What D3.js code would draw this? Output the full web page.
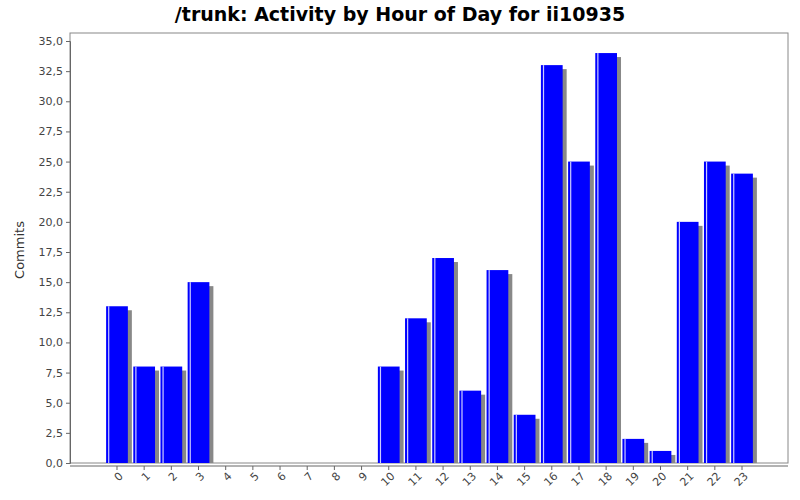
<!DOCTYPE html>
<html>
<head>
<meta charset="UTF-8">
<script src="https://d3js.org/d3.v7.min.js"></script>
<style>
  body { margin: 0; background: #fff; font-family: "DejaVu Sans", sans-serif; }
</style>
</head>
<body>
<svg id="chart" width="800" height="500"></svg>
<script>
  const hours = d3.range(24).map(String);
  const commits = [13, 8, 8, 15, 0, 0, 0, 0, 0, 0, 8, 12, 17, 6, 16, 4, 33, 25, 34, 2, 1, 20, 25, 24];
  const yTicks = d3.range(0, 35.1, 2.5);

  const svg = d3.select("#chart");
  const plot = { left: 70, right: 788, top: 33, bottom: 463 };

  const x = d3.scaleBand().domain(hours).range([103.4, 755.6]).paddingInner(0.2).paddingOuter(0.1);
  const y = d3.scaleLinear().domain([0, 35]).range([plot.bottom, 41]);

  svg.append("text")
    .attr("x", 400).attr("y", 21)
    .attr("text-anchor", "middle")
    .attr("font-size", "19px").attr("font-weight", "bold")
    .text("/trunk: Activity by Hour of Day for ii10935");

  // plot frame
  svg.append("rect")
    .attr("x", plot.left).attr("y", plot.top)
    .attr("width", plot.right - plot.left).attr("height", plot.bottom - plot.top)
    .attr("fill", "#fff").attr("stroke", "#888").attr("stroke-width", 1);

  const fmt = d => d3.format(".1f")(d).replace(".", ",");

  const yAxis = svg.append("g")
    .attr("transform", `translate(${plot.left},0)`)
    .call(d3.axisLeft(y).tickValues(yTicks).tickFormat(fmt).tickSize(4).tickPadding(3));
  yAxis.selectAll("text").attr("font-size", "11px").attr("fill", "#444").attr("font-family", "DejaVu Sans");
  yAxis.selectAll("line, path").attr("stroke", "#666");

  const xAxis = svg.append("g")
    .attr("transform", `translate(0,${plot.bottom + 3})`)
    .call(d3.axisBottom(x).tickSize(4).tickSizeOuter(0));
  xAxis.select(".domain").attr("d", `M${plot.left},0H${plot.right}`).attr("stroke", "#666");
  xAxis.selectAll("line").attr("stroke", "#666");
  xAxis.selectAll("text")
    .attr("font-size", "11px").attr("fill", "#444").attr("font-family", "DejaVu Sans")
    .attr("text-anchor", "end")
    .attr("transform", "translate(4,8) rotate(-45)")
    .attr("dy", "0.35em").attr("y", 0);

  svg.append("text")
    .attr("transform", "rotate(-90)")
    .attr("x", -250).attr("y", 24)
    .attr("text-anchor", "middle").attr("font-size", "13px").attr("fill", "#333")
    .text("Commits");

  const data = hours.map((h, i) => ({ h, v: commits[i] })).filter(d => d.v > 0);

  // shadows
  svg.selectAll(".shadow").data(data).join("rect")
    .attr("x", d => x(d.h) + 4).attr("y", d => y(d.v) + 4)
    .attr("width", x.bandwidth()).attr("height", d => plot.bottom - y(d.v) - 4)
    .attr("fill", "#888");

  svg.selectAll(".bar").data(data).join("rect")
    .attr("x", d => x(d.h)).attr("y", d => y(d.v))
    .attr("width", x.bandwidth()).attr("height", d => plot.bottom - y(d.v))
    .attr("fill", "#0000ff");

  // highlight stripe
  svg.selectAll(".hl").data(data).join("rect")
    .attr("x", d => x(d.h) + 2).attr("y", d => y(d.v))
    .attr("width", 1.2).attr("height", d => plot.bottom - y(d.v))
    .attr("fill", "#ccccff");
</script>
</body>
</html>
